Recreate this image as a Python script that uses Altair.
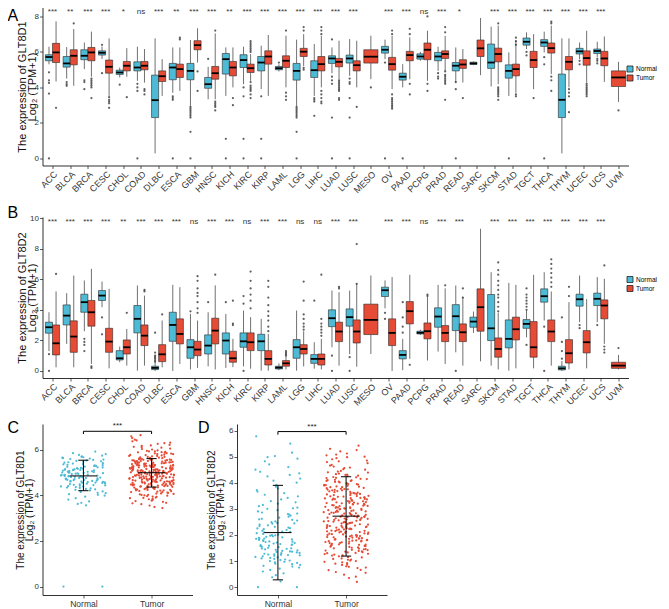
import altair as alt
import pandas as pd

FONT = "Liberation Sans"
NORMAL_COL = "#4DBBD5"
TUMOR_COL = "#E64B35"

cancers = ["ACC", "BLCA", "BRCA", "CESC", "CHOL", "COAD", "DLBC", "ESCA", "GBM", "HNSC",
           "KICH", "KIRC", "KIRP", "LAML", "LGG", "LIHC", "LUAD", "LUSC", "MESO", "OV",
           "PAAD", "PCPG", "PRAD", "READ", "SARC", "SKCM", "STAD", "TGCT", "THCA", "THYM",
           "UCEC", "UCS", "UVM"]

stars_A = ["***", "**", "***", "***", "*", "ns", "***", "**", "***", "***", "**", "***", "***",
           "***", "***", "***", "***", "***", "", "***", "***", "ns", "***", "*", "", "***",
           "***", "***", "***", "***", "***", "***", ""]
stars_B = ["***", "***", "***", "***", "**", "***", "***", "***", "ns", "***", "***", "ns", "***",
           "***", "ns", "ns", "***", "***", "", "***", "***", "ns", "***", "***", "", "***",
           "***", "***", "***", "***", "***", "***", ""]

# box statistics: [lower whisker, Q1, median, Q3, upper whisker]
A_normal = [
    [5.3, 5.5, 5.71, 5.84, 6.29], [4.5, 5.14, 5.35, 5.74, 6.27], [5.03, 5.56, 5.78, 6.12, 6.53],
    [5.6, 5.82, 5.95, 6.06, 6.3], [4.56, 4.73, 4.84, 4.97, 5.12], [4.37, 4.93, 5.12, 5.44, 6.29],
    [0.28, 2.3, 3.28, 4.69, 6.76], [3.7, 4.43, 5.12, 5.35, 6.25], [2.96, 4.43, 4.93, 5.35, 6.67],
    [3.33, 3.95, 4.18, 4.56, 5.16], [3.52, 4.75, 5.59, 5.91, 6.25], [4.18, 5.12, 5.54, 5.84, 6.29],
    [3.9, 4.93, 5.4, 5.74, 6.35], [4.9, 4.99, 5.08, 5.18, 5.3], [2.96, 4.41, 4.93, 5.35, 6.69],
    [3.52, 4.56, 4.97, 5.5, 6.44], [4.8, 5.35, 5.63, 5.78, 6.25], [4.65, 5.37, 5.63, 5.82, 6.72],
    None, [5.59, 5.93, 6.12, 6.31, 6.69], [4.0, 4.41, 4.6, 4.8, 5.31],
    [5.5, 5.59, 5.74, 5.89, 6.0], [4.93, 5.5, 5.74, 5.97, 6.29], [4.27, 4.93, 5.22, 5.4, 6.25],
    [5.25, 5.29, 5.35, 5.42, 5.46], [4.05, 5.07, 5.4, 6.44, 7.42], [3.52, 4.52, 4.93, 5.27, 5.97],
    [6.16, 6.38, 6.57, 6.78, 7.1], [5.97, 6.31, 6.53, 6.69, 7.14], [0.28, 2.3, 3.3, 4.75, 6.76],
    [5.59, 5.88, 6.03, 6.2, 6.53], [5.7, 5.91, 6.05, 6.16, 6.57], None]
A_tumor = [
    [4.33, 5.4, 5.97, 6.48, 7.72], [4.09, 5.27, 5.78, 6.12, 7.29], [4.6, 5.5, 5.97, 6.25, 7.14],
    [3.52, 4.8, 5.16, 5.54, 6.76], [4.6, 4.93, 5.22, 5.46, 6.21], [4.27, 4.99, 5.22, 5.46, 6.16],
    [3.52, 4.33, 4.63, 4.93, 5.59], [3.8, 4.56, 5.03, 5.31, 6.25], [5.4, 6.12, 6.38, 6.63, 7.33],
    [3.33, 4.46, 4.8, 5.18, 7.04], [4.0, 4.65, 5.12, 5.46, 6.25], [4.37, 4.84, 5.08, 5.31, 5.88],
    [3.52, 5.31, 5.74, 6.06, 6.95], [4.0, 5.12, 5.5, 5.78, 6.91], [5.2, 5.74, 6.01, 6.2, 7.0],
    [4.0, 4.93, 5.31, 5.74, 6.9], [4.46, 5.16, 5.44, 5.63, 6.63], [4.0, 4.93, 5.25, 5.5, 6.63],
    [4.46, 5.37, 5.73, 6.12, 6.91], [3.9, 4.97, 5.31, 5.69, 6.9], [4.46, 5.5, 5.82, 6.03, 6.82],
    [4.37, 5.56, 6.12, 6.5, 7.19], [4.93, 5.63, 5.88, 6.06, 6.9], [4.27, 5.07, 5.29, 5.56, 6.16],
    [4.69, 5.74, 6.2, 6.67, 7.91], [4.18, 5.44, 5.88, 6.21, 7.48], [3.7, 4.65, 5.03, 5.31, 6.63],
    [3.9, 5.12, 5.54, 6.03, 7.0], [4.75, 5.93, 6.21, 6.5, 7.48], [4.0, 4.99, 5.44, 5.74, 6.76],
    [4.27, 5.25, 5.65, 6.06, 7.19], [4.31, 5.22, 5.63, 6.03, 6.87], [3.18, 4.05, 4.56, 4.93, 5.44]]

A_normal_out = {
    "ACC": [4.85, 4.4, 4.25, 3.65, 0], "BLCA": [4.3, 4.18, 4.09], "BRCA": [4.4, 4.3, 3.9],
    "CESC": [6.4, 4.8], "CHOL": [4.15], "COAD": [4.2, 4.0, 3.8, 0], "ESCA": [3.5, 3.4, 3.3, 0],
    "GBM": [2.9, 2.8, 2.7, 2.6, 2.5, 2.4, 2.3, 1.5, 0], "HNSC": [5.6], "KICH": [1.1, 0],
    "KIRC": [4.0, 3.5, 1.1, 0], "KIRP": [3.5, 1.1, 0], "LAML": [5.4],
    "LGG": [2.9, 2.8, 2.7, 2.6, 2.5, 2.4, 2.3, 1.5, 0], "LIHC": [3.4, 3.3, 3.2, 2.4],
    "LUAD": [6.7, 4.6, 4.4, 4.2, 2.3, 0], "LUSC": [4.5, 4.3, 4.2, 3.4, 2.3, 0], "OV": [5.4, 0],
    "PAAD": [0], "PRAD": [4.8, 4.6, 4.5], "READ": [4.3, 3.9, 0], "STAD": [0],
    "TGCT": [6.0, 5.8], "THCA": [5.7, 5.3, 0], "UCEC": [5.5, 5.3], "UCS": [5.6, 5.5, 5.35]}
A_tumor_out = {
    "ACC": [2.85], "BLCA": [7.6], "BRCA": [4.5, 4.4, 4.3, 4.2, 4.1, 4.0, 3.4],
    "CESC": [3.45, 3.3, 3.2, 3.1, 2.85], "CHOL": [3.45], "COAD": [3.9, 3.8, 3.6],
    "ESCA": [6.8, 6.7], "GBM": [4.9, 3.8], "HNSC": [7.2, 3.2, 3.1, 3.0, 2.9, 2.7],
    "KICH": [3.4, 3.0],
    "KIRC": [6.6, 6.5, 6.4, 6.3, 6.2, 6.1, 6.0, 4.3, 4.1, 4.0, 3.9, 3.8, 3.6, 3.4],
    "LAML": [7.2, 3.7, 3.5, 3.3], "LGG": [7.4, 7.2, 5.1, 5.0],
    "LIHC": [7.4, 7.2, 7.0, 3.8, 3.6, 3.4, 3.2, 3.1],
    "LUAD": [4.4, 4.3, 4.2, 4.1, 4.0, 3.9, 3.8, 3.4, 3.3], "LUSC": [2.9], "MESO": [4.0],
    "OV": [7.2, 7.0, 3.6, 3.4, 3.3, 3.2, 3.1, 3.0, 2.9, 2.8], "PAAD": [7.3, 7.0, 4.2, 3.6],
    "PCPG": [8.0, 4.2, 3.8], "PRAD": [7.4, 7.1, 4.9, 4.7, 4.6, 4.5, 4.4, 4.3, 4.2, 3.3],
    "READ": [3.4], "SKCM": [7.6, 4.0, 3.9, 3.8, 3.7, 3.6, 3.5, 3.3],
    "STAD": [6.8, 6.6, 6.4, 3.6, 3.5], "TGCT": [3.4], "THCA": [7.7, 7.6, 4.6, 4.4, 3.8],
    "THYM": [3.9, 3.7, 3.5, 2.6], "UCEC": [4.2, 4.1, 4.0, 3.9, 3.8, 3.7, 3.6, 3.5],
    "UVM": [2.7]}

B_normal = [
    [1.3, 2.47, 2.86, 3.19, 3.84], [1.77, 3.01, 3.62, 4.32, 5.09], [2.6, 3.84, 4.5, 5.02, 5.92],
    [4.17, 4.61, 4.93, 5.26, 5.85], [0.57, 0.72, 0.83, 1.33, 1.6], [0.02, 2.49, 3.41, 4.28, 5.59],
    [0.0, 0.09, 0.2, 0.31, 0.55], [0.0, 1.94, 3.01, 3.84, 5.63], [0.1, 0.83, 1.55, 2.05, 3.73],
    [0.3, 1.11, 1.66, 2.36, 3.84], [0.2, 1.11, 1.99, 2.49, 3.73], [0.3, 1.55, 1.94, 2.49, 3.95],
    [0.02, 1.33, 1.94, 2.4, 3.41], [0.05, 0.13, 0.22, 0.31, 0.5], [0.02, 0.83, 1.55, 2.05, 3.95],
    [0.15, 0.5, 0.79, 1.07, 1.88], [1.55, 2.9, 3.45, 4.0, 5.26], [1.1, 2.93, 3.52, 4.06, 5.26],
    None, [4.1, 4.87, 5.28, 5.48, 5.92], [0.05, 0.79, 1.05, 1.33, 2.1],
    [2.35, 2.42, 2.5, 2.6, 2.7], [1.27, 2.86, 3.56, 4.13, 5.63], [1.22, 2.64, 3.58, 4.34, 5.59],
    [2.49, 2.86, 3.23, 3.52, 3.89], [0.35, 1.99, 2.79, 5.0, 6.46], [0.02, 1.51, 2.1, 3.34, 5.76],
    [2.2, 2.79, 3.08, 3.36, 3.95], [3.3, 4.5, 4.89, 5.37, 6.46], [0.0, 0.07, 0.17, 0.31, 0.65],
    [3.19, 4.24, 4.69, 5.02, 6.24], [3.19, 4.28, 4.72, 5.09, 6.14], None]
B_tumor = [
    [0.24, 1.05, 1.81, 3.01, 5.2], [0.24, 1.22, 2.25, 3.28, 6.24], [0.46, 2.93, 3.84, 4.61, 6.68],
    [0.17, 1.22, 1.92, 2.79, 5.37], [0.35, 1.11, 1.55, 2.03, 2.75], [0.35, 1.66, 2.31, 3.01, 4.93],
    [0.24, 0.61, 1.09, 1.72, 3.3], [0.46, 1.77, 2.42, 3.41, 5.48], [0.2, 1.0, 1.4, 1.94, 3.3],
    [0.1, 1.77, 2.64, 3.45, 5.6], [0.25, 0.57, 0.83, 1.29, 2.1], [0.15, 1.33, 1.88, 2.49, 3.52],
    [0.02, 0.39, 0.79, 1.33, 2.42], [0.1, 0.31, 0.5, 0.68, 0.95], [0.3, 1.11, 1.44, 1.72, 2.6],
    [0.1, 0.39, 0.79, 1.11, 2.1], [0.35, 1.92, 2.58, 3.19, 5.15], [0.28, 1.83, 2.58, 3.34, 5.7],
    [1.11, 2.38, 3.34, 4.37, 6.24], [0.0, 1.66, 2.49, 3.41, 6.14], [0.79, 3.08, 3.91, 4.54, 6.29],
    [0.68, 2.1, 2.6, 3.14, 4.83], [0.46, 1.92, 2.49, 2.97, 5.4], [0.35, 1.92, 2.53, 3.08, 4.83],
    [0.63, 2.6, 4.17, 5.37, 9.3], [0.1, 0.9, 1.44, 2.16, 3.8], [0.17, 2.03, 2.73, 3.52, 5.63],
    [0.17, 0.9, 1.55, 3.23, 6.29], [0.35, 1.92, 2.58, 3.34, 5.2], [0.1, 0.52, 1.16, 2.05, 4.5],
    [0.17, 1.18, 1.88, 2.64, 4.7], [1.77, 3.41, 4.28, 4.65, 6.03], [0.1, 0.17, 0.35, 0.57, 1.05]]

B_normal_out = {
    "ACC": [1.1, 0], "BRCA": [2.1, 1.9, 1.7, 1.3], "CESC": [3.5, 2.4],
    "DLBC": [0.6, 0.7, 0.8, 0.9, 1.0, 1.2, 2.5], "GBM": [3.9], "HNSC": [4.5], "KICH": [4.5],
    "KIRC": [4.9, 4.4, 0], "LIHC": [4.6], "LUAD": [1.0, 0], "LUSC": [0.9, 0], "OV": [3.8, 3.4],
    "PAAD": [2.5, 2.9, 3.5, 4.5], "READ": [0], "TGCT": [4.0, 4.2, 4.4, 4.6, 4.8, 5.0, 5.4, 1.7],
    "THCA": [2.9, 0], "THYM": [0.8, 1.3, 1.9, 3.5], "UCEC": [3.0, 2.8], "UCS": [3.0]}
B_tumor_out = {
    "ACC": [6.35], "BRCA": [0.3, 0.2], "CHOL": [3.8], "COAD": [5.3, 5.2], "DLBC": [3.7],
    "GBM": [3.8, 4.1, 4.5, 4.9, 5.1, 5.4, 5.9, 6.2], "HNSC": [6.3], "KICH": [3.0, 3.1, 4.6],
    "KIRC": [4.1, 4.6, 5.0, 5.4, 5.9, 6.5], "KIRP": [2.6, 2.9, 3.3, 3.6, 3.9, 4.3, 4.8, 5.5, 5.9],
    "LAML": [1.0, 1.1, 1.2, 1.3], "LGG": [2.7, 2.9, 3.1, 3.4, 3.7, 4.6, 5.85],
    "LIHC": [2.3, 2.5, 2.7, 2.9, 3.1, 3.4, 6.3], "LUAD": [5.5, 5.4], "LUSC": [8.3, 5.7],
    "PAAD": [0.4], "PCPG": [5.0, 4.9], "PRAD": [5.6], "READ": [5.4, 4.8],
    "SKCM": [3.9, 4.2, 4.5, 4.8, 5.0, 5.3, 5.6, 5.9, 6.3, 6.6, 7.1],
    "THCA": [5.5, 5.8, 6.1, 6.4, 6.7, 7.0, 7.3], "THYM": [4.9, 5.5], "UCS": [6.9, 1.6, 1.4, 1.2],
    "UVM": [1.5]}

# C / D: individual samples
C_normal = [0.0, 0.0, 3.57, 3.63, 3.68, 3.74, 3.82, 3.88, 3.95, 3.99,
            4.03, 4.06, 4.1, 4.12, 4.15, 4.18, 4.2, 4.22, 4.25, 4.27, 4.29, 4.31, 4.33, 4.35, 4.37, 4.39,
            4.4, 4.41, 4.43, 4.44, 4.46, 4.47, 4.49, 4.5, 4.52, 4.53, 4.55, 4.56, 4.57, 4.59, 4.6, 4.61,
            4.63, 4.64, 4.65, 4.67, 4.68, 4.69, 4.71, 4.72, 4.73, 4.75, 4.76, 4.77, 4.79, 4.8,
            4.81, 4.82, 4.84, 4.85, 4.86, 4.87, 4.89, 4.9, 4.91, 4.92, 4.94, 4.95, 4.96, 4.97, 4.99, 5.0,
            5.01, 5.02, 5.04, 5.05, 5.06, 5.08, 5.09, 5.1, 5.12, 5.13, 5.14, 5.16, 5.17, 5.18, 5.2,
            5.21, 5.23, 5.24, 5.26, 5.27, 5.29, 5.3, 5.32, 5.33, 5.35, 5.37, 5.38, 5.4, 5.42, 5.44, 5.46,
            5.48, 5.5, 5.52, 5.54, 5.56, 5.58, 5.6, 5.62, 5.64, 5.66, 5.68, 5.7, 5.72, 5.75, 5.78, 5.82,
            5.86, 5.93, 4.58, 4.74, 4.88, 5.03, 5.15, 4.62, 4.98, 5.11, 4.83, 4.7]
C_tumor = [3.45, 3.5, 3.56, 3.62, 3.68, 3.72, 3.77, 3.81, 3.85, 3.88, 3.91, 3.94, 3.97, 3.99,
           4.01, 4.03, 4.05, 4.07, 4.09, 4.11, 4.13, 4.15, 4.17, 4.19, 4.2, 4.22, 4.23, 4.25, 4.26, 4.28,
           4.29, 4.31, 4.32, 4.34, 4.35, 4.36, 4.38, 4.39,
           4.4, 4.41, 4.42, 4.43, 4.44, 4.45, 4.46, 4.47, 4.48, 4.49, 4.5, 4.51, 4.52, 4.53, 4.54, 4.55,
           4.56, 4.57, 4.58, 4.59, 4.6, 4.61, 4.62, 4.63, 4.64, 4.65, 4.66, 4.67, 4.68, 4.69, 4.7, 4.71,
           4.72, 4.73, 4.74, 4.75, 4.76, 4.77, 4.78, 4.79,
           4.8, 4.81, 4.82, 4.83, 4.84, 4.85, 4.86, 4.87, 4.88, 4.89, 4.9, 4.91, 4.92, 4.93, 4.94, 4.95,
           4.96, 4.97, 4.98, 4.99, 5.0, 5.01, 5.02, 5.03, 5.04, 5.05, 5.06, 5.07, 5.08, 5.09, 5.1, 5.11,
           5.12, 5.13, 5.14, 5.15, 5.16, 5.17, 5.18, 5.19,
           4.805, 4.835, 4.865, 4.895, 4.925, 4.955, 4.985, 5.015, 5.045, 5.075, 5.105, 5.135, 5.165,
           4.605, 4.655, 4.705, 4.755, 5.205, 5.255, 5.305, 5.355, 5.405,
           5.2, 5.21, 5.22, 5.23, 5.24, 5.25, 5.26, 5.27, 5.28, 5.29, 5.3, 5.31, 5.32, 5.33, 5.34, 5.35,
           5.36, 5.37, 5.38, 5.39, 5.4, 5.41, 5.42, 5.43, 5.44, 5.45, 5.46, 5.47, 5.48, 5.49, 5.5, 5.51,
           5.52, 5.53, 5.54, 5.55, 5.56, 5.57, 5.58, 5.59,
           5.6, 5.62, 5.64, 5.66, 5.68, 5.7, 5.72, 5.74, 5.76, 5.78, 5.8, 5.82, 5.84, 5.86, 5.88, 5.9,
           5.92, 5.94, 5.96, 5.98,
           6.02, 6.06, 6.1, 6.14, 6.18, 6.22, 6.27, 6.32, 6.38, 6.45, 6.52, 6.6, 6.65,
           4.315, 4.345, 4.375, 4.415, 4.445, 4.475, 4.505, 4.535, 4.565, 4.595, 4.625, 4.675, 4.725,
           4.775, 4.815, 4.845, 4.875, 4.905, 4.935, 4.965, 4.995, 5.025, 5.055, 5.085, 5.115, 5.145,
           5.175, 5.215, 5.245, 5.275, 5.315, 5.345, 5.375, 5.415, 5.445, 5.475, 5.515, 5.545, 5.575,
           5.615, 5.655, 5.695, 5.735, 5.775, 5.815, 5.855, 5.895, 5.935, 4.215, 4.245, 4.275, 4.145,
           4.085, 4.025, 3.955, 3.895, 3.835, 3.755, 3.655, 6.04, 6.12, 6.2, 6.3, 6.42, 4.48, 4.62,
           4.78, 4.92, 5.06, 5.18, 5.32, 5.44, 5.58]
D_normal = [0.0, 0.0, 0.22, 0.38, 0.46, 0.53, 0.6, 0.66, 0.71, 0.75, 0.79, 0.82, 0.85, 0.88, 0.9, 0.93,
            0.95, 0.97, 1.0, 1.02, 1.04, 1.06, 1.08, 1.1, 1.12, 1.14, 1.16, 1.18, 1.2, 1.22, 1.23, 1.25,
            1.26, 1.28, 1.3, 1.31, 1.33, 1.35, 1.37, 1.39, 1.41, 1.43, 1.45, 1.47, 1.49, 1.51, 1.53,
            1.55, 1.57, 1.59, 1.61, 1.63, 1.65, 1.67, 1.69, 1.71, 1.73, 1.75, 1.77, 1.79, 1.81, 1.83,
            1.85, 1.87, 1.89, 1.91, 1.93, 1.95, 1.97, 1.99, 2.01, 2.04, 2.07, 2.1, 2.13, 2.16, 2.19,
            2.22, 2.25, 2.28, 2.31, 2.34, 2.37, 2.4, 2.43, 2.46, 2.49, 2.52, 2.55, 2.58, 2.62, 2.66,
            2.7, 2.74, 2.78, 2.82, 2.86, 2.9, 2.95, 3.0, 3.05, 3.1, 3.15, 3.2, 3.25, 3.3, 3.36, 3.42,
            3.48, 3.54, 3.6, 3.66, 3.72, 3.78, 3.85, 3.92, 4.0, 4.08, 4.16, 4.24, 4.3, 4.36, 4.42, 4.5,
            4.6, 4.7, 4.82, 4.92, 4.98, 5.02, 5.15, 5.5, 5.78, 1.24, 1.36, 1.48, 1.62, 1.74, 1.86, 1.98,
            2.12, 2.26, 2.44, 2.6, 2.8, 3.02]
D_tumor = [0.2, 0.35, 0.48, 0.58, 0.66, 0.73, 0.8, 0.86, 0.92, 0.97, 1.02, 1.06, 1.1, 1.14, 1.18,
           1.22, 1.25, 1.28, 1.31, 1.34, 1.37, 1.4, 1.43, 1.46, 1.49, 1.52, 1.55, 1.58, 1.61, 1.64,
           1.67, 1.7, 1.72, 1.74, 1.76, 1.78, 1.8, 1.82, 1.84, 1.86, 1.88, 1.9, 1.92, 1.94, 1.96, 1.98,
           2.0, 2.02, 2.04, 2.06, 2.08, 2.1, 2.12, 2.14, 2.16, 2.18, 2.2, 2.22, 2.24, 2.26, 2.28, 2.3,
           2.32, 2.34, 2.36, 2.38, 2.4, 2.42, 2.44, 2.46, 2.48, 2.5, 2.52, 2.54, 2.56, 2.58, 2.6, 2.62,
           2.64, 2.66, 2.68, 2.7, 2.72, 2.74, 2.76, 2.78, 2.8, 2.82, 2.84, 2.86, 2.88, 2.9, 2.92, 2.94,
           2.96, 2.98, 3.0, 3.02, 3.04, 3.06, 3.08, 3.1, 3.12, 3.14, 3.16, 3.18, 3.2, 3.22, 3.24, 3.26,
           3.28, 3.3, 3.32, 3.34, 3.36, 3.38, 3.4, 3.42, 3.44, 3.46, 3.48, 3.5, 3.53, 3.56, 3.59, 3.62,
           3.65, 3.68, 3.71, 3.74, 3.77, 3.8, 3.83, 3.86, 3.89, 3.92, 3.95, 3.98, 4.01, 4.04, 4.07, 4.1,
           4.14, 4.18, 4.22, 4.26, 4.3, 4.35, 4.4, 4.45, 4.5, 4.56, 4.62, 4.68, 4.75, 4.82, 4.9, 4.98,
           5.05, 5.12, 5.2, 5.3, 5.42,
           1.21, 1.33, 1.45, 1.57, 1.69, 1.81, 1.93, 2.05, 2.17, 2.29, 2.41, 2.53, 2.65, 2.77, 2.89,
           3.01, 3.13, 3.25, 3.37, 3.49, 3.61, 3.73, 3.85, 3.97, 4.09, 4.21, 1.27, 1.39, 1.51, 1.63,
           1.75, 1.87, 1.99, 2.11, 2.23, 2.35, 2.47, 2.59, 2.71, 2.83, 2.95, 3.07, 3.19, 3.31, 3.43,
           3.55, 3.67, 3.79, 3.91, 4.03, 1.05, 1.15, 0.95, 0.85, 0.75, 0.65, 4.15, 4.27, 4.39, 1.62,
           1.78, 1.95, 2.13, 2.31, 2.49, 2.67, 2.85, 3.03, 3.21, 3.39, 3.57, 3.75, 3.93, 4.11, 4.33,
           4.58, 4.85, 5.0, 5.25,
           1.3, 1.42, 1.54, 1.66, 1.79, 1.91, 2.03, 2.15, 2.27, 2.39, 2.51, 2.63, 2.75, 2.87, 2.99,
           3.11, 3.23, 3.35, 3.47, 3.59, 3.71, 3.83, 3.95, 4.07, 4.19, 4.31, 4.43, 4.52, 4.66, 4.79,
           4.94, 5.08, 1.36, 1.48, 1.6, 1.73, 1.85, 1.97, 2.09, 2.21, 2.33, 2.45, 2.57, 2.69, 2.81,
           2.93, 3.05, 3.17, 3.29, 3.41, 3.53, 3.64, 3.76, 3.88, 0.9, 1.0, 1.08, 0.78, 0.55, 0.4]

# mean and SD bars: [mean, lower, upper] for Normal and Tumor
C_stats = {"Normal": [4.86, 4.21, 5.55], "Tumor": [5.0, 4.37, 5.62]}
D_stats = {"Normal": [2.09, 0.28, 3.9], "Tumor": [2.72, 1.19, 4.23]}
C_bracket = 6.82
D_bracket = 5.96

color_scale = alt.Scale(domain=["Normal", "Tumor"], range=[NORMAL_COL, TUMOR_COL])


def box_table(normal, tumor, n_out, t_out):
    rows = []
    for i, c in enumerate(cancers):
        for g, st, outs in (("Normal", normal[i], n_out), ("Tumor", tumor[i], t_out)):
            if st is not None:
                rows.append(dict(cat=c, idx=i + 1, group=g, kind="box", lw=st[0], q1=st[1],
                                 med=st[2], q3=st[3], uw=st[4]))
            for v in outs.get(c, []):
                rows.append(dict(cat=c, idx=i + 1, group=g, kind="out", val=v))
    return pd.DataFrame(rows)


def box_panel(df, stars, gene, ydom, yticks, star_y, letter, letter_xy, legend_y, height):
    xs = alt.Scale(domain=[0.434, 33.566], nice=False, zero=False)
    ys = alt.Scale(domain=ydom, nice=False, zero=False)
    label_expr = "[" + ",".join("'%s'" % c for c in cancers) + "][datum.value - 1]"
    xax = alt.Axis(values=list(range(1, 34)), labelExpr=label_expr, labelAngle=-45,
                   labelAlign="right", labelBaseline="top", labelFontSize=9, title=None,
                   labelPadding=1, labelOverlap=False)
    yax = alt.Axis(values=yticks, title=["The expression of " + gene, "Log\u2082 (TPM+1)"],
                   titleFontSize=11, titleLineHeight=9.5, titleX=-15, titleBaseline="bottom")
    base = alt.Chart(df).transform_joinaggregate(
        n="distinct(group)", groupby=["cat"]
    ).transform_calculate(
        off="datum.n > 1 ? (datum.group == 'Normal' ? -0.2 : 0.2) : 0",
        hw="datum.n > 1 ? 0.2 : 0.4",
    ).transform_calculate(
        pos="datum.idx + datum.off",
        lo="datum.idx + datum.off - datum.hw",
        hi="datum.idx + datum.off + datum.hw",
    )
    boxes = base.transform_filter("datum.kind == 'box'")
    w1 = boxes.mark_rule(color="#333333", strokeWidth=0.7).encode(
        x=alt.X("pos:Q", scale=xs, axis=xax), y=alt.Y("lw:Q", scale=ys, axis=yax), y2="q1:Q")
    w2 = boxes.mark_rule(color="#333333", strokeWidth=0.7).encode(
        x=alt.X("pos:Q", scale=xs, axis=xax), y=alt.Y("q3:Q", scale=ys, axis=yax), y2="uw:Q")
    bx = boxes.mark_bar(stroke="#262626", strokeWidth=0.6).encode(
        x=alt.X("lo:Q", scale=xs, axis=xax), x2="hi:Q",
        y=alt.Y("q1:Q", scale=ys, axis=yax), y2="q3:Q",
        color=alt.Color("group:N", scale=color_scale,
                        legend=alt.Legend(title=None, orient="none", legendX=584, legendY=legend_y,
                                          symbolType="square", symbolSize=36,
                                          symbolStrokeColor="#222222", symbolStrokeWidth=0.8,
                                          labelFontSize=6.5, rowPadding=-2, labelOffset=2.5,
                                          padding=0)))
    md = boxes.mark_rule(color="black", strokeWidth=1.8).encode(
        x=alt.X("lo:Q", scale=xs, axis=xax), x2="hi:Q", y=alt.Y("med:Q", scale=ys, axis=yax))
    outl = base.transform_filter("datum.kind == 'out'").mark_circle(
        size=5, color="#2b2b2b", opacity=0.75).encode(
        x=alt.X("pos:Q", scale=xs, axis=xax), y=alt.Y("val:Q", scale=ys, axis=yax))
    st = alt.Chart(pd.DataFrame({"idx": list(range(1, 34)), "star": stars})).mark_text(
        fontSize=8, baseline="middle").encode(
        x=alt.X("idx:Q", scale=xs, axis=xax),
        y=alt.YDatum(star_y, scale=ys, axis=yax), text="star:N",
        color=alt.value("#333333"))
    lab = alt.Chart(pd.DataFrame({"t": [letter]})).mark_text(
        fontSize=16, align="left", baseline="alphabetic").encode(
        x=alt.value(letter_xy[0]), y=alt.value(letter_xy[1]), text="t:N",
        color=alt.value("black"))
    return alt.layer(w1, w2, bx, md, outl, st, lab).properties(width=586, height=height)


def scatter_panel(nvals, tvals, stats, gene, ydom, yticks, bracket_y, letter, letter_xy, title_x):
    xs = alt.Scale(domain=[0.4, 2.6], nice=False, zero=False)
    ys = alt.Scale(domain=ydom, nice=False, zero=False)
    xax = alt.Axis(values=[1, 2], labelExpr="datum.value == 1 ? 'Normal' : 'Tumor'",
                   title=None, labelFontSize=8.5, labelAngle=0)
    yax = alt.Axis(values=yticks, title=["The expression of " + gene, "Log\u2082 (TPM+1)"],
                   titleFontSize=10, titleLineHeight=9.5, titleX=title_x, titleBaseline="bottom")
    df = pd.DataFrame({"group": ["Normal"] * len(nvals) + ["Tumor"] * len(tvals),
                       "val": nvals + tvals})
    pts = alt.Chart(df).transform_window(
        i="row_number()", groupby=["group"]
    ).transform_calculate(
        gx="datum.group == 'Normal' ? 1 : 2",
        h="sin(datum.i * 12.9898 + (datum.group == 'Normal' ? 0 : 78.233)) * 43758.5453",
    ).transform_calculate(
        jx="datum.gx + (datum.h - floor(datum.h) - 0.5) * 0.66"
    ).mark_circle(size=5, opacity=1).encode(
        x=alt.X("jx:Q", scale=xs, axis=xax), y=alt.Y("val:Q", scale=ys, axis=yax),
        color=alt.Color("group:N", scale=color_scale, legend=None))
    sdf = pd.DataFrame({"group": list(stats.keys()),
                        "mean": [v[0] for v in stats.values()],
                        "lo": [v[1] for v in stats.values()],
                        "hi": [v[2] for v in stats.values()]})
    sb = alt.Chart(sdf).transform_calculate(
        gx="datum.group == 'Normal' ? 1 : 2"
    ).transform_calculate(
        cl="datum.gx - 0.075", cr="datum.gx + 0.075", ml="datum.gx - 0.2", mr="datum.gx + 0.2")
    vbar = sb.mark_rule(color="black", strokeWidth=1).encode(
        x=alt.X("gx:Q", scale=xs, axis=xax), y=alt.Y("lo:Q", scale=ys, axis=yax), y2="hi:Q")
    cap1 = sb.mark_rule(color="black", strokeWidth=1).encode(
        x=alt.X("cl:Q", scale=xs, axis=xax), x2="cr:Q", y=alt.Y("lo:Q", scale=ys, axis=yax))
    cap2 = sb.mark_rule(color="black", strokeWidth=1).encode(
        x=alt.X("cl:Q", scale=xs, axis=xax), x2="cr:Q", y=alt.Y("hi:Q", scale=ys, axis=yax))
    mline = sb.mark_rule(color="black", strokeWidth=1).encode(
        x=alt.X("ml:Q", scale=xs, axis=xax), x2="mr:Q", y=alt.Y("mean:Q", scale=ys, axis=yax))
    bdf = pd.DataFrame({"x1": [1], "x2": [2], "y": [bracket_y], "s": ["***"]})
    bb = alt.Chart(bdf).transform_calculate(yd="datum.y - 0.12", mid="(datum.x1 + datum.x2) / 2",
                                            yt="datum.y + 0.04")
    hl = bb.mark_rule(color="black", strokeWidth=1).encode(
        x=alt.X("x1:Q", scale=xs, axis=xax), x2="x2:Q", y=alt.Y("y:Q", scale=ys, axis=yax))
    t1 = bb.mark_rule(color="black", strokeWidth=1).encode(
        x=alt.X("x1:Q", scale=xs, axis=xax), y=alt.Y("yd:Q", scale=ys, axis=yax), y2="y:Q")
    t2 = bb.mark_rule(color="black", strokeWidth=1).encode(
        x=alt.X("x2:Q", scale=xs, axis=xax), y=alt.Y("yd:Q", scale=ys, axis=yax), y2="y:Q")
    tx = bb.mark_text(fontSize=8, baseline="bottom").encode(
        x=alt.X("mid:Q", scale=xs, axis=xax), y=alt.Y("yt:Q", scale=ys, axis=yax), text="s:N",
        color=alt.value("#222222"))
    lab = alt.Chart(pd.DataFrame({"t": [letter]})).mark_text(
        fontSize=16, align="left", baseline="alphabetic").encode(
        x=alt.value(letter_xy[0]), y=alt.value(letter_xy[1]), text="t:N",
        color=alt.value("black"))
    return alt.layer(pts, vbar, cap1, cap2, mline, hl, t1, t2, tx, lab).properties(
        width=150, height=171)


dfA = box_table(A_normal, A_tumor, A_normal_out, A_tumor_out)
dfB = box_table(B_normal, B_tumor, B_normal_out, B_tumor_out)

pA = box_panel(dfA, stars_A, "GLT8D1", [-0.4, 8.5], [0, 2, 4, 6, 8], 8.22, "A", (-35, 13), 58, 158)
pB = box_panel(dfB, stars_B, "GLT8D2", [-0.46, 10.07], [0, 2, 4, 6, 8, 10], 9.72, "B", (-35, 1), 59, 161)
pC = scatter_panel(C_normal, C_tumor, C_stats, "GLT8D1", [-0.37, 7.14], [0, 2, 4, 6], C_bracket,
                   "C", (-35, 9), -17.5)
pD = scatter_panel(D_normal, D_tumor, D_stats, "GLT8D2", [-0.3, 6.25], [0, 1, 2, 3, 4, 5, 6],
                   D_bracket, "D", (-39, 9), -21)

top = alt.vconcat(pA, pB, spacing=9.5).resolve_scale(color="independent").resolve_legend(
    color="independent")
bottom = alt.hconcat(pC, pD, spacing=5.5)

chart = alt.vconcat(top, bottom, spacing=12.5).resolve_scale(color="independent").resolve_legend(
    color="independent").properties(
    padding={"left": -0.5, "top": -0.5, "right": 0, "bottom": 0}
).configure(font=FONT).configure_view(stroke=None).configure_axis(
    grid=False, domainColor="#1a1a1a", domainWidth=0.9, tickColor="#333333", tickWidth=0.8,
    tickSize=3, labelColor="#333333", labelFontSize=8, titleFontSize=10.5,
    titleFontWeight="normal", titleColor="#111111", titleLineHeight=10, titlePadding=2,
    labelPadding=1
)

chart.save("out.html", embed_options={"renderer": "svg", "actions": False})
